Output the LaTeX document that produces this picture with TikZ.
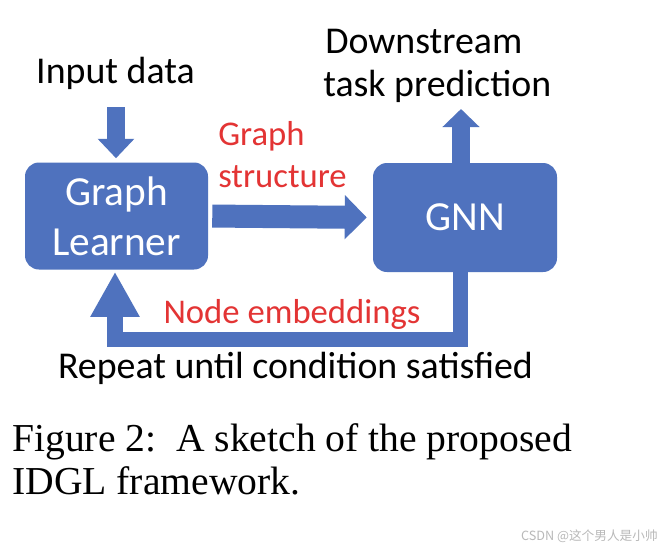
\documentclass[tikz,border=0pt]{standalone}
\usepackage{fontspec}
\setmainfont{Carlito}
\newfontfamily\capfont{Liberation Serif}
\newfontfamily\cjk{Noto Sans CJK SC}
\usetikzlibrary{arrows.meta}
\definecolor{boxblue}{RGB}{79,114,190}
\definecolor{lblred}{RGB}{227,52,52}
\definecolor{wmgray}{RGB}{185,185,185}
\tikzset{
  box/.style={fill=boxblue, rounded corners=10.5pt, text=white, align=center,
    font=\fontsize{31}{37.5}\selectfont, inner sep=0pt},
  lbl/.style={inner sep=0pt, anchor=base, font=\fontsize{28.4}{32}\selectfont},
  redlbl/.style={inner sep=0pt, anchor=base, text=lblred, font=\fontsize{26}{30}\selectfont},
  capt/.style={inner sep=0pt, anchor=base west, font=\capfont\fontsize{29.7}{34}\selectfont},
  barrow/.style={draw=boxblue, line join=miter},
}
\begin{document}
\begin{tikzpicture}[x=0.75pt,y=-0.75pt]
\useasboundingbox[fill=white] (0,0) rectangle (664,550);
% boxes
\node[box, minimum width=137.25pt, minimum height=80.25pt] (GL) at (116.5,216) {Graph\\Learner};
\node[box, minimum width=138pt, minimum height=81.75pt] (GNN) at (465,217.5) {GNN};
% labels
\node[lbl] (inp) at (115.5,83) {Input data};
\node[lbl, anchor=base west] (ds1) at (325,53) {Downstream};
\node[lbl, anchor=base west] (ds2) at (323,96) {task prediction};
\node[redlbl, anchor=base west] (gs1) at (218,145) {Graph};
\node[redlbl, anchor=base west] (gs2) at (218,187) {structure};
\node[redlbl] (ne) at (292,323) {Node embeddings};
\node[lbl] (rep) at (295.5,378) {Repeat until condition satisfied};
\node[capt] (c1) at (12,451) {Figure 2:\ \ A sketch of the proposed};
\node[capt] (c2) at (12,494) {IDGL framework.};
\node[inner sep=0pt, anchor=base east, text=wmgray, font=\cjk\fontsize{9.5}{10}\selectfont] (wm) at (658,540) {CSDN @这个男人是小帅};
% coordinates
\coordinate (inTop) at (116,107);
\coordinate (outTip) at (461,109);
\coordinate (loopR) at (460.5,339.5);
\coordinate (loopL) at (115,339.5);
% arrows
\draw[barrow, line width=13.5pt, -{Triangle[width=26.5pt,length=14.5pt]}, shorten >=3pt]
  (inTop) -- (inTop |- GL.north);
\draw[barrow, line width=17.25pt, -{Triangle[width=32.25pt,length=16.5pt]}, shorten <=3pt, shorten >=4.5pt]
  (GL.east) -- (GNN.west);
\draw[barrow, line width=13.5pt, -{Triangle[width=27pt,length=13.5pt]}]
  (outTip |- GNN.north) -- (outTip);
\draw[barrow, line width=11.5pt, -{Triangle[width=34.5pt,length=33.75pt]}, shorten >=1.5pt]
  (loopR |- GNN.south) -- (loopR) -- (loopL) -- (loopL |- GL.south);
\end{tikzpicture}
\end{document}
